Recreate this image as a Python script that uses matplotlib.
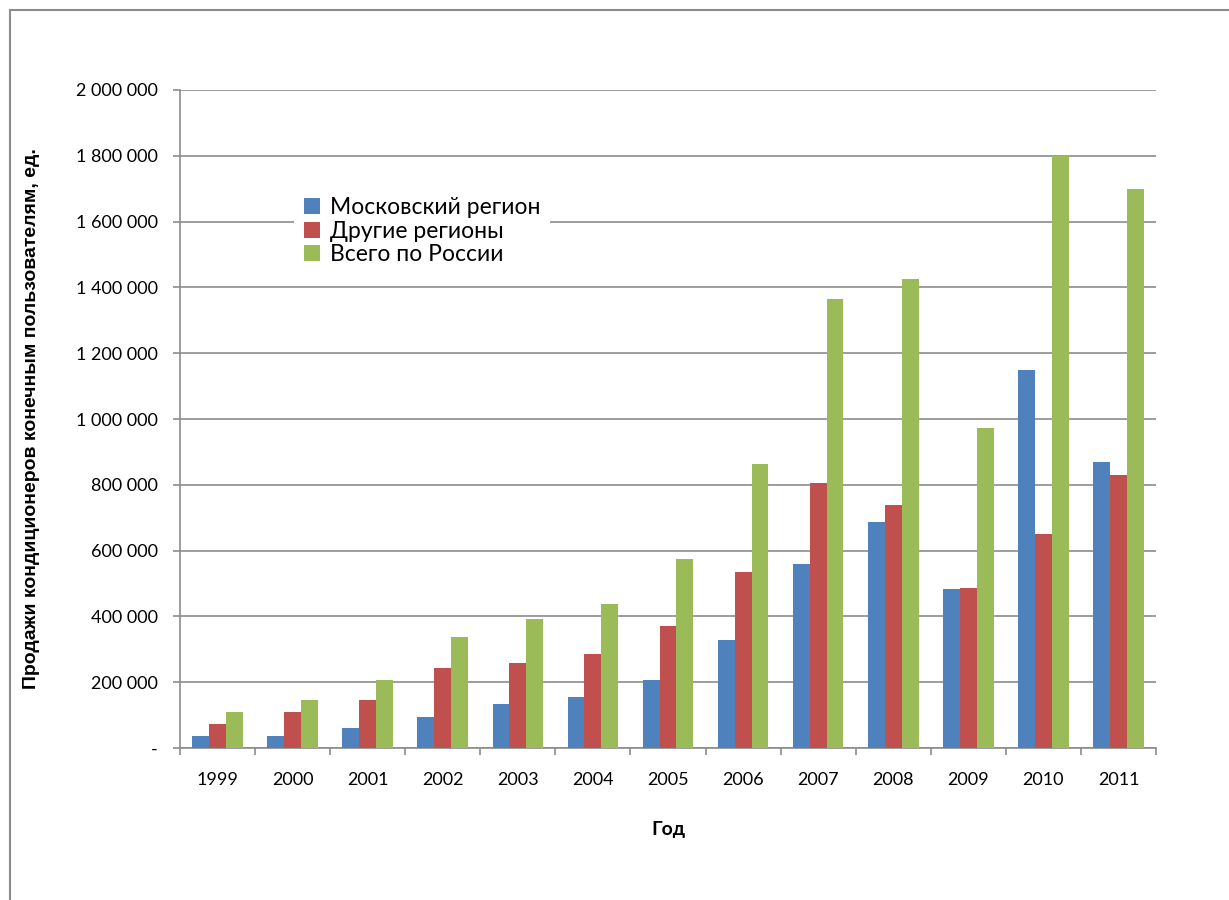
import matplotlib
matplotlib.use("Agg")
import matplotlib.pyplot as plt
import numpy as np
from matplotlib.lines import Line2D

years = ["1999", "2000", "2001", "2002", "2003", "2004", "2005",
         "2006", "2007", "2008", "2009", "2010", "2011"]
moscow = [36000, 36000, 61000, 94000, 133000, 155000, 206000,
          327000, 559000, 687000, 483000, 1150000, 869000]
other = [73000, 109000, 145000, 242000, 258000, 285000, 370000,
         536000, 805000, 739000, 486000, 650000, 830000]
total = [109000, 145000, 206000, 336000, 391000, 439000, 573000,
         864000, 1365000, 1426000, 973000, 1800000, 1700000]
series_names = ["Московский регион", "Другие регионы", "Всего по России"]
colors = ["#4F81BD", "#C0504D", "#9BBB59"]
yticks = np.arange(0, 2000001, 200000)

plt.rcParams["font.family"] = ["Lato", "DejaVu Sans"]

fig = plt.figure(figsize=(12.29, 9.0), dpi=100)
ax = fig.add_axes([180 / 1229, 152 / 900, 976 / 1229, 658 / 900])

x = np.arange(len(years))
w = 0.225
for k, (vals, name, c) in enumerate(zip([moscow, other, total], series_names, colors)):
    ax.bar(x + (k - 1) * w, vals, width=w, color=c, label=name, zorder=3)

ax.set_xlim(-0.5, len(years) - 0.5)
ax.set_ylim(0, 2000000)

ax.set_yticks(yticks)
ax.set_yticklabels(["-"] + ["{:,}".format(v).replace(",", " ") for v in yticks[1:]])
ax.yaxis.grid(True, color="#8c8c8c", linewidth=1.2, zorder=0)

ax.set_xticks(x)
ax.set_xticklabels(years)
ax.set_xticks(np.arange(-0.5, len(years)), minor=True)
ax.tick_params(axis="x", which="major", length=0, pad=17, labelsize=13)
ax.tick_params(axis="x", which="minor", length=5, color="#8c8c8c", width=1.2)
ax.tick_params(axis="y", length=5, color="#8c8c8c", width=1.2, pad=11, labelsize=13)

for side in ["top", "right"]:
    ax.spines[side].set_visible(False)
for side in ["left", "bottom"]:
    ax.spines[side].set_color("#8c8c8c")
    ax.spines[side].set_linewidth(1.2)

ax.set_xlabel("Год", fontsize=14, fontweight="bold", labelpad=24)
ax.set_ylabel("Продажи кондиционеров конечным пользователям, ед.",
              fontsize=14, fontweight="bold", family=["Liberation Sans", "DejaVu Sans"])
ax.yaxis.set_label_coords(-140 / 976, 0.5)

leg = ax.legend(loc="upper left", bbox_to_anchor=(114 / 976, 561 / 658),
                frameon=True, fontsize=16.5, handlelength=0.7, handleheight=0.7,
                handletextpad=0.4, labelspacing=0.1, borderpad=0.45,
                borderaxespad=0)
leg.get_frame().set_edgecolor("none")
leg.get_frame().set_facecolor("white")
leg.get_frame().set_alpha(1)
leg.set_zorder(5)

# chart frame, only its top and left edges fall inside the canvas
fig.add_artist(Line2D([9.5 / 1229, 9.5 / 1229], [0, 1 - 10 / 900],
                      transform=fig.transFigure, color="#8c8c8c", linewidth=1.5))
fig.add_artist(Line2D([9.5 / 1229, 1], [1 - 10 / 900, 1 - 10 / 900],
                      transform=fig.transFigure, color="#8c8c8c", linewidth=1.5))

fig.savefig("out.png", dpi=100)
